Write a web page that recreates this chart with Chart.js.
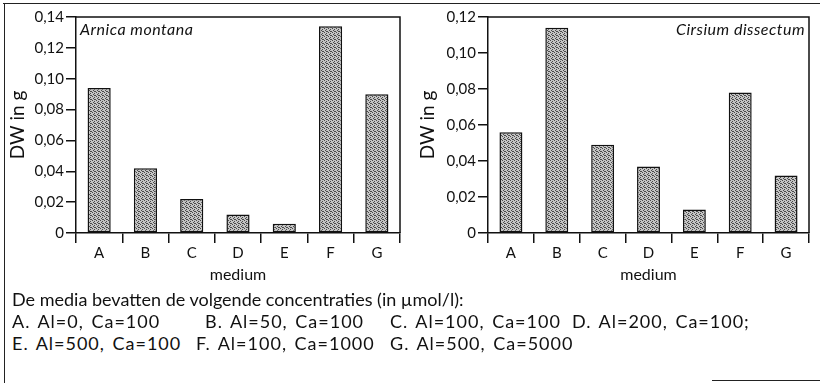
<!DOCTYPE html>
<html>
<head>
<meta charset="utf-8">
<script src="https://cdn.jsdelivr.net/npm/chart.js@4/dist/chart.umd.min.js"></script>
<style>
  html, body { margin: 0; padding: 0; background: #fff; }
  #page { position: relative; width: 820px; height: 383px; overflow: hidden; font-family: Lato, "Open Sans", sans-serif; color: #111; }
  .panel { position: absolute; top: 0; }
  .frame-top { position: absolute; left: 3px; top: 3px; width: 817px; height: 0; border-top: 1.5px solid #222; }
  .frame-left { position: absolute; left: 4px; top: 3px; width: 0; height: 380px; border-left: 1.5px solid #222; }
  .frame-br { position: absolute; left: 712px; top: 380px; width: 108px; height: 0; border-top: 1.5px solid #222; }
  .note { position: absolute; font-size: 18px; white-space: nowrap; line-height: 1; }
  .cond { letter-spacing: 1px; word-spacing: 2px; }
</style>
</head>
<body>
<div id="page">
  <div class="frame-top"></div>
  <div class="frame-left"></div>
  <div class="frame-br"></div>
  <canvas id="arnica" class="panel" style="left:0" width="410" height="290"></canvas>
  <canvas id="cirsium" class="panel" style="left:410px" width="410" height="290"></canvas>

  <div class="note" style="left:12px; top:290px">De media bevatten de volgende concentraties (in µmol/l):</div>
  <div class="note cond" style="left:12px; top:312px">A. Al=0, Ca=100</div>
  <div class="note cond" style="left:205px; top:312px">B. Al=50, Ca=100</div>
  <div class="note cond" style="left:390px; top:312px">C. Al=100, Ca=100</div>
  <div class="note cond" style="left:572px; top:312px">D. Al=200, Ca=100;</div>
  <div class="note cond" style="left:12px; top:334px">E. Al=500, Ca=100</div>
  <div class="note cond" style="left:196px; top:334px">F. Al=100, Ca=1000</div>
  <div class="note cond" style="left:390px; top:334px">G. Al=500, Ca=5000</div>
</div>
<script>
const media = ['A', 'B', 'C', 'D', 'E', 'F', 'G'];
const arnicaDW = [0.094, 0.042, 0.022, 0.012, 0.006, 0.134, 0.090];
const cirsiumDW = [0.056, 0.114, 0.049, 0.037, 0.013, 0.078, 0.032];
const arnicaMax = 0.14;
const cirsiumMax = 0.12;
const yStep = 0.02;

const FONT = 'Lato, "Open Sans", sans-serif';

// stippled grey fill like the printed figure
function stipple() {
  const c = document.createElement('canvas');
  c.width = 4;
  c.height = 4;
  const g = c.getContext('2d');
  g.fillStyle = '#c4c4c4';
  g.fillRect(0, 0, 4, 4);
  g.fillStyle = '#4a4a4a';
  [[0, 0], [2, 1], [1, 2], [3, 3], [2, 3]].forEach(([x, y]) => g.fillRect(x, y, 1, 1));
  return g.createPattern(c, 'repeat');
}

// box around the plot area + species name inside it
const framePlugin = {
  id: 'frameBox',
  afterDraw(chart, args, opts) {
    const { ctx, chartArea: a } = chart;
    ctx.save();
    ctx.strokeStyle = '#111';
    ctx.lineWidth = 1.5;
    ctx.beginPath();
    ctx.moveTo(a.left, a.top);
    ctx.lineTo(a.right, a.top);
    ctx.lineTo(a.right, a.bottom);
    ctx.stroke();
    ctx.font = 'italic 16px ' + FONT;
    ctx.letterSpacing = '0.5px';
    ctx.fillStyle = '#111';
    ctx.textBaseline = 'middle';
    if (opts.align === 'right') {
      ctx.textAlign = 'right';
      ctx.fillText(opts.label, a.right - 4, a.top + 13);
    } else {
      ctx.textAlign = 'left';
      ctx.fillText(opts.label, a.left + 4, a.top + 13);
    }
    ctx.restore();
  }
};

function makeChart(id, values, max, label, align, axisWidth, padRight) {
  const canvas = document.getElementById(id);
  return new Chart(canvas, {
    type: 'bar',
    data: {
      labels: media,
      datasets: [{
        data: values,
        backgroundColor: stipple(),
        borderColor: '#111',
        borderWidth: 1.5,
        borderSkipped: false,
        barPercentage: 0.5,
        categoryPercentage: 1
      }]
    },
    options: {
      responsive: false,
      animation: false,
      devicePixelRatio: 1,
      layout: { padding: { top: 17, right: padRight, left: 0, bottom: 0 } },
      plugins: {
        legend: { display: false },
        tooltip: { enabled: false },
        frameBox: { label: label, align: align }
      },
      scales: {
        x: {
          grid: { drawOnChartArea: false, drawTicks: true, tickLength: 10, color: '#111', lineWidth: 1.5 },
          border: { color: '#111', width: 1.5 },
          ticks: { color: '#111', font: { family: FONT, size: 15 }, padding: 1 },
          title: { display: true, text: 'medium', color: '#111', font: { family: FONT, size: 16 }, padding: { top: 0, bottom: 6 } },
          afterFit(scale) { scale.height = 57; }
        },
        y: {
          min: 0,
          max: max,
          grid: { drawOnChartArea: false, drawTicks: true, tickLength: 10, color: '#111', lineWidth: 1.5 },
          border: { color: '#111', width: 1.5 },
          ticks: {
            stepSize: yStep,
            color: '#111',
            padding: 2,
            font: { family: FONT, size: 15 },
            callback: (v) => (v === 0 ? '0' : (Math.round(v * 100) / 100).toFixed(2).replace('.', ','))
          },
          title: { display: true, text: 'DW in g', color: '#111', font: { family: FONT, size: 19 }, padding: { top: 6, bottom: 0 } },
          afterFit(scale) { scale.width = axisWidth; }
        }
      }
    },
    plugins: [framePlugin]
  });
}

makeChart('arnica', arnicaDW, arnicaMax, 'Arnica montana', 'left', 76, 10);
makeChart('cirsium', cirsiumDW, cirsiumMax, 'Cirsium dissectum', 'right', 78, 11);
</script>
</body>
</html>
